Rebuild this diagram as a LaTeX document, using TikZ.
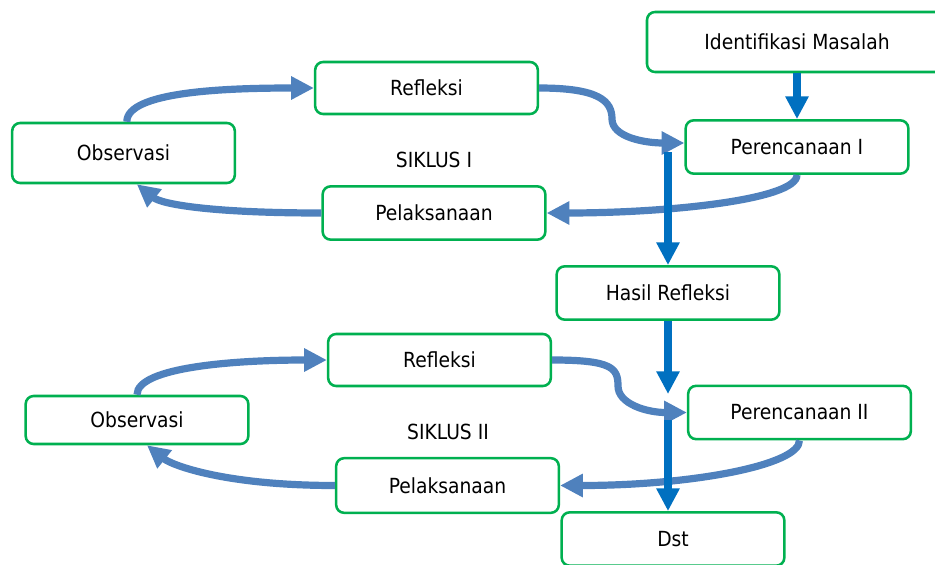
\documentclass[tikz,border=0pt]{standalone}
\usepackage{fontspec}
\setmainfont{DejaVu Sans Condensed}
\usetikzlibrary{arrows.meta}
\definecolor{boxgreen}{RGB}{0,176,80}
\definecolor{cycblue}{RGB}{79,129,189}
\definecolor{flowblue}{RGB}{0,112,192}
\begin{document}
\begin{tikzpicture}[x=0.75pt,y=-0.75pt,
cycblock/.style={draw=boxgreen,fill=white,rectangle,rounded corners=6pt,line width=1.9pt,minimum width=167pt,minimum height=40pt,font=\fontsize{15.6}{18}\selectfont},
cyclabel/.style={font=\fontsize{15.6}{18}\selectfont},
cycarrow/.style={draw=cycblue,line width=5.4pt,-{Triangle[length=17pt,width=16.5pt]}},
flowarrow/.style={draw=flowblue,line width=6pt,-{Triangle[length=17pt,width=16.5pt]}}]
\useasboundingbox (0,0) rectangle (935,564);
\draw (797,42) node[cycblock,minimum width=225pt,minimum height=45pt] (ident) {Identifikasi Masalah};
\draw (797,147) node[cycblock] (plan1) {Perencanaan I};
\draw (426.5,88) node[cycblock,minimum height=39pt] (refl1) {Refleksi};
\draw (123.5,153) node[cycblock,minimum height=45pt] (obs1) {Observasi};
\draw (434,213) node[cycblock] (pel1) {Pelaksanaan};
\draw (434,160) node[cyclabel] (sik1) {SIKLUS I};
\draw (668,293) node[cycblock] (hasil) {Hasil Refleksi};
\draw (439.5,360) node[cycblock,minimum height=39pt] (refl2) {Refleksi};
\draw (137,420) node[cycblock,minimum height=36pt] (obs2) {Observasi};
\draw (448,432) node[cyclabel] (sik2) {SIKLUS II};
\draw (799.5,412.5) node[cycblock] (plan2) {Perencanaan II};
\draw (447.5,485.5) node[cycblock,minimum height=41pt] (pel2) {Pelaksanaan};
\draw (673,539) node[cycblock] (dst) {Dst};
\coordinate (bend1) at (612,119);
\coordinate (bend2) at (618,386);
\coordinate (split1) at (668,152);
\coordinate (join2) at (668,394);
\coordinate (split2) at (668,420);
% siklus I
\draw[cycarrow] ([xshift=2.5pt]obs1.north) .. controls +(0,-30) and +(-90,0) .. (refl1.west);
\draw[cycarrow] (refl1.east) .. controls +(60,0) and +(0,-18) .. (bend1) .. controls +(0,18) and +(-40,0) .. ([yshift=3pt]plan1.west);
\draw[cycarrow] (plan1.south) .. controls +(0,25) and +(120,0) .. (pel1.east);
\draw[cycarrow] (pel1.west) .. controls +(-110,0) and +(25,20) .. ([xshift=10pt]obs1.south);
% siklus II
\draw[cycarrow] (obs2.north) .. controls +(0,-28) and +(-90,0) .. (refl2.west);
\draw[cycarrow] (refl2.east) .. controls +(60,0) and +(0,-18) .. (bend2) .. controls +(0,18) and +(-40,0) .. (plan2.west);
\draw[cycarrow] (plan2.south) .. controls +(0,25) and +(130,0) .. (pel2.east);
\draw[cycarrow] (pel2.west) .. controls +(-110,0) and +(25,20) .. ([xshift=7.5pt]obs2.south);
% alur
\draw[flowarrow] (ident.south) -- (plan1.north);
\draw[flowarrow] (split1) -- (hasil.north);
\draw[flowarrow] (hasil.south) -- (join2);
\draw[flowarrow] (split2) -- (split2 |- dst.north);
\end{tikzpicture}
\end{document}
